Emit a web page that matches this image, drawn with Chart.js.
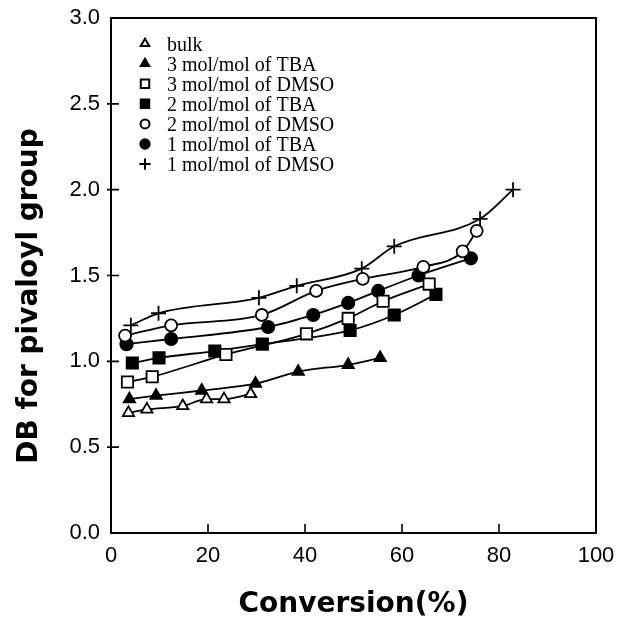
<!DOCTYPE html>
<html>
<head>
<meta charset="utf-8">
<script src="https://cdn.jsdelivr.net/npm/chart.js@4/dist/chart.umd.min.js"></script>
<style>
  html, body { margin: 0; padding: 0; background: #fff; }
  #wrap { width: 617px; height: 622px; }
</style>
</head>
<body>
<div id="wrap"><canvas id="dbChart"></canvas></div>
<script>
// Degree of substitution (pivaloyl) against conversion, one series per solvent condition
const seriesLabels = [
    'bulk',
    '3 mol/mol of TBA',
    '3 mol/mol of DMSO',
    '2 mol/mol of TBA',
    '2 mol/mol of DMSO',
    '1 mol/mol of TBA',
    '1 mol/mol of DMSO'
];

const bulkConv = [3.6, 7.4, 14.8, 19.7, 23.3, 28.8];
const bulkDB   = [0.70, 0.72, 0.74, 0.78, 0.78, 0.81];

const tba3Conv = [3.8, 9.3, 18.7, 29.8, 38.6, 48.9, 55.5];
const tba3DB   = [0.78, 0.80, 0.83, 0.87, 0.94, 0.98, 1.02];

const dmso3Conv = [3.4, 8.5, 23.7, 40.3, 48.9, 56.1, 65.6];
const dmso3DB   = [0.88, 0.91, 1.04, 1.16, 1.25, 1.35, 1.45];

const tba2Conv = [4.4, 9.9, 21.4, 31.2, 49.3, 58.4, 67.0];
const tba2DB   = [0.99, 1.02, 1.06, 1.10, 1.18, 1.27, 1.39];

const dmso2Conv = [2.9, 12.4, 31.1, 42.3, 51.9, 64.4, 72.5, 75.4];
const dmso2DB   = [1.15, 1.21, 1.27, 1.41, 1.48, 1.55, 1.64, 1.76];

const tba1Conv = [3.2, 12.4, 32.4, 41.7, 48.9, 55.1, 63.4, 74.2];
const tba1DB   = [1.10, 1.13, 1.20, 1.27, 1.34, 1.41, 1.50, 1.60];

const dmso1Conv = [4.1, 9.8, 30.5, 38.3, 51.7, 58.4, 76.1, 82.9];
const dmso1DB   = [1.21, 1.28, 1.37, 1.44, 1.54, 1.67, 1.83, 2.00];

const xTickValues = [0, 20, 40, 60, 80, 100];
const yTickValues = [0.0, 0.5, 1.0, 1.5, 2.0, 2.5, 3.0];

const xTitle = 'Conversion(%)';
const yTitle = 'DB for pivaloyl group';

function toPoints(xs, ys) {
    return xs.map((x, i) => ({ x: x, y: ys[i] }));
}

// marker style per series: [pointStyle, filled, radius]
const markerStyles = [
    ['triangle', false, 6.5],
    ['triangle', true, 6.5],
    ['rect', false, 8],
    ['rect', true, 8],
    ['circle', false, 6],
    ['circle', true, 6.2],
    ['cross', false, 7.5]
];

const seriesData = [
    toPoints(bulkConv, bulkDB),
    toPoints(tba3Conv, tba3DB),
    toPoints(dmso3Conv, dmso3DB),
    toPoints(tba2Conv, tba2DB),
    toPoints(dmso2Conv, dmso2DB),
    toPoints(tba1Conv, tba1DB),
    toPoints(dmso1Conv, dmso1DB)
];

const datasets = seriesData.map((pts, i) => {
    const [style, filled, radius] = markerStyles[i];
    return {
        label: seriesLabels[i],
        data: pts,
        showLine: true,
        borderColor: '#000',
        borderWidth: 1.8,
        cubicInterpolationMode: 'monotone',
        pointStyle: style,
        pointRadius: radius,
        pointBorderColor: '#000',
        pointBorderWidth: 1.8,
        pointBackgroundColor: filled ? '#000' : '#fff'
    };
});

const tickFont = { family: '"Liberation Sans", Arial, sans-serif', size: 22 };
const titleFont = { family: '"DejaVu Sans", sans-serif', size: 28, weight: 'bold' };

// Frame, inward ticks, the rotated y title and the in-plot legend
const framePlugin = {
    id: 'frame',
    afterDatasetsDraw(chart) {
        const { ctx, chartArea: a, scales } = chart;
        ctx.save();
        ctx.strokeStyle = '#000';
        ctx.lineWidth = 2;
        ctx.strokeRect(a.left, a.top, a.right - a.left, a.bottom - a.top);

        ctx.lineWidth = 1.6;
        ctx.beginPath();
        xTickValues.slice(1, -1).forEach(v => {
            const px = scales.x.getPixelForValue(v);
            ctx.moveTo(px, a.bottom);
            ctx.lineTo(px, a.bottom - 9);
        });
        yTickValues.slice(1, -1).forEach(v => {
            const py = scales.y.getPixelForValue(v);
            ctx.moveTo(a.left - 4, py);
            ctx.lineTo(a.left + 8, py);
        });
        ctx.stroke();

        // y axis title, a little below the plot's middle
        ctx.save();
        ctx.translate(30, 296);
        ctx.rotate(-Math.PI / 2);
        ctx.font = 'bold 28px "DejaVu Sans", sans-serif';
        ctx.fillStyle = '#000';
        ctx.textAlign = 'center';
        ctx.textBaseline = 'middle';
        ctx.fillText(yTitle, 0, 0);
        ctx.restore();

        // legend
        const markX = 145, textX = 167, rowY = 43.5, rowGap = 20.1;
        ctx.font = '20px "Liberation Serif", "Times New Roman", serif';
        ctx.fillStyle = '#000';
        ctx.textBaseline = 'middle';
        chart.data.datasets.forEach((ds, i) => {
            const y = rowY + i * rowGap;
            ctx.save();
            ctx.strokeStyle = '#000';
            ctx.lineWidth = 2;
            ctx.fillStyle = ds.pointBackgroundColor;
            Chart.helpers.drawPoint(ctx, {
                pointStyle: ds.pointStyle,
                radius: ds.pointRadius * 0.75,
                rotation: 0,
                borderWidth: 2
            }, markX, y);
            ctx.restore();
            ctx.fillText(ds.label, textX, y + 2);
        });
        ctx.restore();
    }
};

new Chart(document.getElementById('dbChart'), {
    type: 'scatter',
    data: { datasets: datasets },
    options: {
        responsive: true,
        maintainAspectRatio: false,
        animation: false,
        layout: { padding: { top: 18, right: 21, left: 0, bottom: 0 } },
        plugins: {
            legend: { display: false },
            tooltip: { enabled: false }
        },
        scales: {
            x: {
                type: 'linear',
                min: 0,
                max: 100,
                afterFit(scale) {
                    scale.height = 89;
                    scale.paddingLeft = 0;
                    scale.paddingRight = 0;
                },
                afterBuildTicks(scale) { scale.ticks = xTickValues.map(v => ({ value: v })); },
                grid: { display: false, drawTicks: false },
                border: { display: false },
                ticks: { color: '#000', font: tickFont, padding: 10, maxRotation: 0 },
                title: {
                    display: true,
                    text: xTitle,
                    color: '#000',
                    font: titleFont,
                    padding: { top: 0, bottom: 0 }
                }
            },
            y: {
                type: 'linear',
                min: 0,
                max: 3,
                afterFit(scale) {
                    scale.width = 111;
                    scale.paddingTop = 0;
                    scale.paddingBottom = 0;
                },
                afterBuildTicks(scale) { scale.ticks = yTickValues.map(v => ({ value: v })); },
                grid: { display: false, drawTicks: false },
                border: { display: false },
                ticks: {
                    color: '#000',
                    font: tickFont,
                    padding: 11,
                    callback: v => Number(v).toFixed(1)
                },
                title: { display: false }
            }
        }
    },
    plugins: [framePlugin]
});
</script>
</body>
</html>
